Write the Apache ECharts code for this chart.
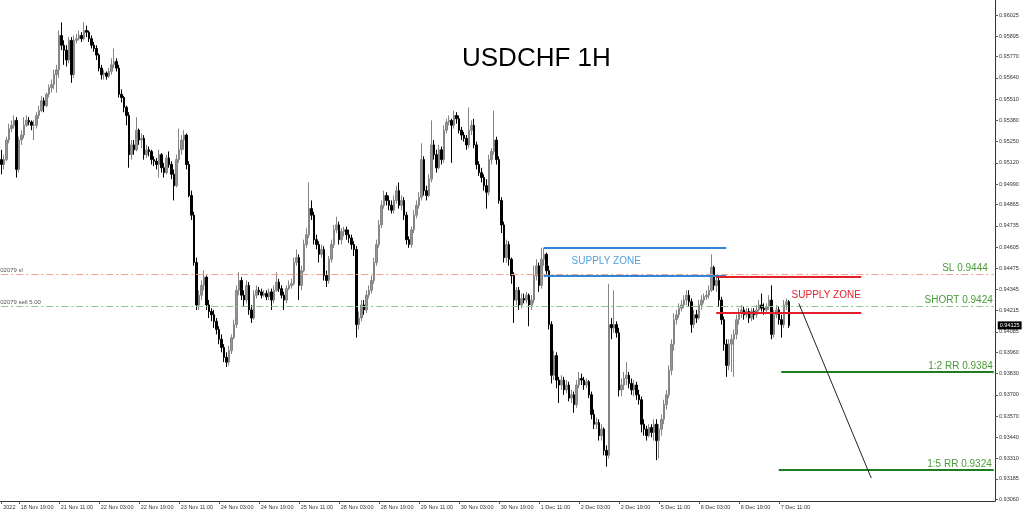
<!DOCTYPE html>
<html><head><meta charset="utf-8">
<script src="https://cdn.jsdelivr.net/npm/echarts@6/dist/echarts.min.js"></script>
<style>html,body{margin:0;padding:0;background:#fff}#c{width:1024px;height:514px}</style>
</head><body><div id="c"></div>
<script>
// ---- data (USDCHF H1 candles) ----
const firstOpen = 0.9514;
const closes = [
0.9511,0.9514,0.9526,0.9533,0.9535,0.9538,0.9508,0.9526,0.9529,0.9535,
0.9538,0.9537,0.9535,0.9535,0.9541,0.9544,0.9550,0.9547,0.9554,0.9558,
0.9560,0.9566,0.9569,0.9590,0.9584,0.9581,0.9575,0.9587,0.9566,0.9587,
0.9588,0.9590,0.9588,0.9593,0.9592,0.9588,0.9584,0.9582,0.9578,0.9570,
0.9566,0.9567,0.9565,0.9568,0.9572,0.9574,0.9570,0.9554,0.9552,0.9546,
0.9541,0.9517,0.9523,0.9520,0.9532,0.9526,0.9527,0.9517,0.9520,0.9519,
0.9514,0.9513,0.9511,0.9517,0.9509,0.9506,0.9515,0.9511,0.9505,0.9498,
0.9514,0.9520,0.9526,0.9529,0.9511,0.9492,0.9480,0.9451,0.9425,0.9431,
0.9437,0.9442,0.9425,0.9421,0.9419,0.9415,0.9410,0.9404,0.9399,0.9393,
0.9390,0.9397,0.9405,0.9413,0.9434,0.9440,0.9431,0.9428,0.9437,0.9422,
0.9417,0.9431,0.9434,0.9433,0.9431,0.9432,0.9430,0.9433,0.9428,0.9434,
0.9439,0.9435,0.9431,0.9428,0.9435,0.9437,0.9438,0.9451,0.9454,0.9437,
0.9446,0.9462,0.9468,0.9484,0.9480,0.9465,0.9462,0.9456,0.9459,0.9443,
0.9440,0.9453,0.9462,0.9471,0.9474,0.9465,0.9470,0.9471,0.9468,0.9466,
0.9462,0.9459,0.9413,0.9417,0.9425,0.9422,0.9431,0.9434,0.9440,0.9451,
0.9462,0.9474,0.9486,0.9492,0.9489,0.9486,0.9483,0.9489,0.9495,0.9486,
0.9489,0.9480,0.9465,0.9462,0.9471,0.9480,0.9486,0.9491,0.9514,0.9495,
0.9492,0.9502,0.9523,0.9517,0.9509,0.9520,0.9514,0.9532,0.9537,0.9538,
0.9535,0.9541,0.9539,0.9532,0.9529,0.9527,0.9523,0.9532,0.9535,0.9523,
0.9511,0.9506,0.9503,0.9498,0.9494,0.9514,0.9519,0.9526,0.9514,0.9489,
0.9474,0.9454,0.9462,0.9453,0.9443,0.9428,0.9434,0.9425,0.9429,0.9428,
0.9431,0.9425,0.9428,0.9443,0.9449,0.9437,0.9453,0.9456,0.9446,0.9413,
0.9382,0.9394,0.9379,0.9376,0.9379,0.9373,0.9376,0.9368,0.9370,0.9364,
0.9376,0.9380,0.9379,0.9376,0.9378,0.9370,0.9358,0.9352,0.9353,0.9345,
0.9349,0.9336,0.9333,0.9413,0.9411,0.9413,0.9408,0.9373,0.9376,0.9380,
0.9382,0.9377,0.9373,0.9376,0.9370,0.9367,0.9352,0.9349,0.9345,0.9350,
0.9347,0.9352,0.9342,0.9349,0.9355,0.9364,0.9370,0.9385,0.9401,0.9416,
0.9419,0.9423,0.9425,0.9428,0.9431,0.9427,0.9413,0.9419,0.9417,0.9425,
0.9428,0.9430,0.9431,0.9434,0.9448,0.9437,0.9440,0.9428,0.9416,0.9401,
0.9388,0.9401,0.9404,0.9407,0.9416,0.9420,0.9422,0.9419,0.9421,0.9417,
0.9421,0.9419,0.9422,0.9425,0.9423,0.9422,0.9424,0.9428,0.9407,0.9419,
0.9422,0.9416,0.9413,0.9425,0.9427,0.94125
];
const highs = [
0.9520,0.9517,0.9528,0.9536,0.9538,0.9541,0.9540,0.9528,0.9532,0.9540,
0.9541,0.9540,0.9538,0.9538,0.9543,0.9547,0.9553,0.9552,0.9555,0.9560,
0.9563,0.9569,0.9572,0.9593,0.9598,0.9587,0.9584,0.9589,0.9589,0.9590,
0.9591,0.9593,0.9592,0.9598,0.9596,0.9593,0.9590,0.9586,0.9584,0.9579,
0.9572,0.9569,0.9568,0.9570,0.9576,0.9582,0.9576,0.9572,0.9557,0.9553,
0.9547,0.9543,0.9526,0.9526,0.9540,0.9533,0.9530,0.9529,0.9523,0.9522,
0.9520,0.9516,0.9515,0.9520,0.9518,0.9512,0.9517,0.9519,0.9513,0.9508,
0.9517,0.9533,0.9529,0.9532,0.9530,0.9513,0.9495,0.9482,0.9454,0.9434,
0.9440,0.9446,0.9443,0.9428,0.9423,0.9422,0.9417,0.9412,0.9407,0.9401,
0.9396,0.9400,0.9407,0.9416,0.9437,0.9445,0.9442,0.9434,0.9440,0.9439,
0.9425,0.9434,0.9437,0.9436,0.9435,0.9434,0.9434,0.9435,0.9435,0.9437,
0.9445,0.9441,0.9437,0.9433,0.9437,0.9440,0.9441,0.9454,0.9459,0.9456,
0.9449,0.9465,0.9472,0.9500,0.9489,0.9482,0.9468,0.9464,0.9462,0.9461,
0.9446,0.9455,0.9465,0.9474,0.9479,0.9476,0.9472,0.9473,0.9473,0.9471,
0.9468,0.9464,0.9461,0.9421,0.9428,0.9428,0.9434,0.9437,0.9443,0.9454,
0.9465,0.9477,0.9489,0.9495,0.9494,0.9492,0.9489,0.9492,0.9498,0.9500,
0.9492,0.9491,0.9482,0.9467,0.9473,0.9483,0.9489,0.9494,0.9524,0.9516,
0.9498,0.9505,0.9538,0.9526,0.9520,0.9523,0.9522,0.9535,0.9539,0.9541,
0.9539,0.9544,0.9543,0.9541,0.9534,0.9531,0.9529,0.9546,0.9538,0.9539,
0.9525,0.9513,0.9509,0.9505,0.9502,0.9517,0.9521,0.9544,0.9528,0.9516,
0.9491,0.9476,0.9465,0.9464,0.9454,0.9445,0.9436,0.9436,0.9432,0.9432,
0.9433,0.9432,0.9431,0.9449,0.9453,0.9451,0.9460,0.9460,0.9457,0.9449,
0.9415,0.9397,0.9396,0.9381,0.9382,0.9381,0.9379,0.9378,0.9373,0.9372,
0.9379,0.9384,0.9383,0.9381,0.9380,0.9379,0.9372,0.9361,0.9356,0.9355,
0.9352,0.9350,0.9339,0.9438,0.9417,0.9434,0.9415,0.9411,0.9380,0.9384,
0.9390,0.9384,0.9380,0.9379,0.9378,0.9373,0.9369,0.9355,0.9351,0.9352,
0.9352,0.9355,0.9355,0.9352,0.9358,0.9367,0.9373,0.9388,0.9404,0.9420,
0.9422,0.9426,0.9428,0.9431,0.9434,0.9434,0.9429,0.9422,0.9422,0.9428,
0.9431,0.9432,0.9434,0.9437,0.9456,0.9449,0.9443,0.9442,0.9430,0.9418,
0.9404,0.9404,0.9407,0.9410,0.9419,0.9423,0.9425,0.9424,0.9423,0.9423,
0.9423,0.9423,0.9425,0.9428,0.9432,0.9426,0.9426,0.9431,0.9437,0.9422,
0.9425,0.9424,0.9419,0.9428,0.9429,0.9428
];
const lows = [
0.9505,0.9508,0.9513,0.9524,0.9531,0.9533,0.9503,0.9506,0.9523,0.9527,
0.9534,0.9535,0.9532,0.9526,0.9533,0.9539,0.9543,0.9543,0.9546,0.9552,
0.9555,0.9557,0.9555,0.9564,0.9581,0.9572,0.9571,0.9573,0.9561,0.9564,
0.9585,0.9587,0.9586,0.9587,0.9589,0.9586,0.9582,0.9580,0.9575,0.9568,
0.9563,0.9563,0.9563,0.9564,0.9566,0.9570,0.9568,0.9552,0.9549,0.9543,
0.9535,0.9509,0.9514,0.9517,0.9519,0.9523,0.9521,0.9514,0.9515,0.9516,
0.9511,0.9510,0.9508,0.9503,0.9506,0.9503,0.9505,0.9509,0.9502,0.9489,
0.9497,0.9512,0.9517,0.9520,0.9508,0.9491,0.9477,0.9449,0.9422,0.9422,
0.9428,0.9434,0.9422,0.9417,0.9415,0.9411,0.9407,0.9401,0.9396,0.9390,
0.9387,0.9388,0.9395,0.9404,0.9411,0.9431,0.9428,0.9424,0.9426,0.9419,
0.9414,0.9416,0.9429,0.9431,0.9429,0.9430,0.9428,0.9428,0.9422,0.9426,
0.9433,0.9433,0.9429,0.9422,0.9426,0.9434,0.9435,0.9437,0.9449,0.9428,
0.9434,0.9445,0.9460,0.9466,0.9477,0.9462,0.9459,0.9451,0.9454,0.9440,
0.9436,0.9438,0.9451,0.9460,0.9469,0.9462,0.9462,0.9467,0.9465,0.9463,
0.9459,0.9455,0.9405,0.9410,0.9415,0.9419,0.9420,0.9429,0.9432,0.9438,
0.9449,0.9460,0.9472,0.9484,0.9486,0.9483,0.9481,0.9481,0.9487,0.9484,
0.9483,0.9477,0.9462,0.9460,0.9460,0.9469,0.9478,0.9484,0.9489,0.9492,
0.9489,0.9491,0.9500,0.9514,0.9506,0.9508,0.9511,0.9512,0.9530,0.9535,
0.9512,0.9533,0.9536,0.9530,0.9526,0.9525,0.9520,0.9521,0.9529,0.9521,
0.9508,0.9504,0.9500,0.9495,0.9484,0.9492,0.9511,0.9517,0.9511,0.9487,
0.9469,0.9451,0.9451,0.9449,0.9438,0.9414,0.9425,0.9422,0.9423,0.9426,
0.9426,0.9412,0.9422,0.9426,0.9440,0.9433,0.9435,0.9449,0.9443,0.9410,
0.9377,0.9379,0.9374,0.9365,0.9373,0.9370,0.9371,0.9366,0.9365,0.9359,
0.9362,0.9374,0.9376,0.9373,0.9374,0.9368,0.9355,0.9349,0.9349,0.9342,
0.9342,0.9333,0.9326,0.9331,0.9404,0.9408,0.9405,0.9369,0.9369,0.9373,
0.9376,0.9374,0.9370,0.9369,0.9367,0.9364,0.9347,0.9345,0.9342,0.9344,
0.9344,0.9342,0.9330,0.9331,0.9345,0.9352,0.9361,0.9368,0.9382,0.9397,
0.9413,0.9417,0.9421,0.9423,0.9425,0.9424,0.9408,0.9411,0.9414,0.9416,
0.9422,0.9426,0.9428,0.9429,0.9433,0.9434,0.9433,0.9424,0.9413,0.9397,
0.9381,0.9385,0.9384,0.9381,0.9404,0.9413,0.9417,0.9416,0.9417,0.9414,
0.9415,0.9416,0.9417,0.9421,0.9421,0.9419,0.9420,0.9422,0.9404,0.9405,
0.9417,0.9413,0.9405,0.9411,0.9422,0.9411
];
// price-axis tick labels and time-axis tick labels
const priceTicks = [0.96025,0.95895,0.95770,0.95640,0.95510,0.95380,0.95250,0.95120,0.94990,0.94865,0.94735,0.94605,0.94475,0.94345,0.94215,0.94085,0.93960,0.93830,0.93700,0.93570,0.93440,0.93310,0.93185,0.93060];
const yearLabel = '2022';
const timeLabels = ['18 Nov 19:00','21 Nov 11:00','22 Nov 03:00','22 Nov 19:00','23 Nov 11:00','24 Nov 03:00','24 Nov 19:00','25 Nov 11:00','28 Nov 03:00','28 Nov 19:00','29 Nov 11:00','30 Nov 03:00','30 Nov 19:00','1 Dec 11:00','2 Dec 03:00','2 Dec 19:00','5 Dec 11:00','6 Dec 03:00','6 Dec 19:00','7 Dec 11:00'];
const firstLabelBar = 7, barsPerLabel = 16, totalSlots = 398;
// trade levels
const slLevel = 0.9444, shortLevel = 0.9424, rr2Level = 0.9384, rr5Level = 0.9324, lastPrice = 0.94125;
const blueZone = [0.9460, 0.9443], blueZoneBars = [217, 290];
const redZone = [0.9442, 0.9420], redZoneBars = [286, 344];
const rr2StartBar = 312, rr5StartBar = 311;
const arrowFrom = [319, 0.9426], arrowTo = [348, 0.9319];
const blueLabelAt = [242, 0.9452], redLabelAt = [330, 0.9431];

// ---- build ----
const cats = [];
for (let i = 0; i < totalSlots; i++) cats.push(String(i));
const lastSlot = totalSlots - 1;
const candles = closes.map((c, i) => {
  const o = i === 0 ? firstOpen : closes[i - 1];
  return [o, c, Math.min(lows[i], o, c), Math.max(highs[i], o, c)];
});
function labelIdx(index) {
  if (index === 0) return -1;
  const k = (index - firstLabelBar) / barsPerLabel;
  return (Number.isInteger(k) && k >= 0 && k < timeLabels.length) ? k : null;
}
const showLabel = (index) => labelIdx(index) !== null;

const FONT = 'Liberation Sans, Arial, sans-serif';
const dashDot = [7, 3, 2, 3];
const green = '#4a9a36';
const hidden = {color: 'rgba(255,255,255,0)', width: 0.01, type: 'solid'};
function hLine(y, x0, x1, lineStyle, label) {
  return [{coord: [x0, y], lineStyle: lineStyle, label: label || {show: false}}, {coord: [x1, y]}];
}
const chart = echarts.init(document.getElementById('c'), null, {renderer: 'canvas'});
chart.setOption({
  animation: false,
  backgroundColor: '#fff',
  title: {text: 'USDCHF 1H', left: 457, top: 41,
    textStyle: {fontSize: 26, fontWeight: 'normal', color: '#000', fontFamily: FONT}},
  grid: {left: 0, right: 29, top: 0, bottom: 13},
  xAxis: {
    type: 'category', data: cats, boundaryGap: true,
    axisLine: {show: true, lineStyle: {color: '#333', width: 1}},
    axisTick: {show: true, alignWithLabel: true, interval: showLabel, length: 3, lineStyle: {color: '#555'}},
    axisLabel: {interval: showLabel, align: 'left', margin: 3, padding: [0, 0, 0, 2],
      fontSize: 5.5, color: '#333', fontFamily: FONT,
      formatter: (v, index) => { const k = labelIdx(index); return k === -1 ? yearLabel : (k === null ? '' : timeLabels[k]); }},
    splitLine: {show: false}
  },
  yAxis: {
    type: 'value', position: 'right', min: 0.9305, max: 0.96117, scale: true,
    axisLine: {show: true, lineStyle: {color: '#333', width: 1}},
    axisTick: {show: true, customValues: priceTicks, length: 3, lineStyle: {color: '#555'}},
    axisLabel: {customValues: priceTicks, formatter: v => v.toFixed(5), fontSize: 5.5, margin: 4,
      color: '#333', fontFamily: FONT},
    splitLine: {show: false}
  },
  series: [{
    type: 'candlestick', data: candles, barWidth: 2,
    itemStyle: {color: '#959595', color0: '#000', borderColor: '#858585', borderColor0: '#000', borderWidth: 1},
    markLine: {
      silent: true, symbol: ['none', 'none'], animation: false,
      data: [
        hLine(slLevel, 0, lastSlot, {color: '#f0a38c', type: dashDot, width: 1},
          {show: true, position: 'insideEndTop', formatter: 'SL 0.9444', color: green, fontSize: 10, distance: [6, 1], fontFamily: FONT}),
        hLine(slLevel, 0, lastSlot, hidden,
          {show: true, position: 'insideStartTop', formatter: '02079 sl', color: '#555', fontSize: 6, distance: [-1, 1], fontFamily: FONT}),
        hLine(shortLevel, 0, lastSlot, {color: '#8cc48c', type: dashDot, width: 1},
          {show: true, position: 'insideEndTop', formatter: 'SHORT 0.9424', color: green, fontSize: 10, distance: [1, 1], fontFamily: FONT}),
        hLine(shortLevel, 0, lastSlot, hidden,
          {show: true, position: 'insideStartTop', formatter: '02079 sell 5.00', color: '#555', fontSize: 6, distance: [-1, 1], fontFamily: FONT}),
        hLine(blueZone[0], blueZoneBars[0], blueZoneBars[1], {color: '#2f86d8', width: 2, type: 'solid'}),
        hLine(blueZone[1], blueZoneBars[0], blueZoneBars[1], {color: '#2f86d8', width: 2, type: 'solid'}),
        hLine(redZone[0], redZoneBars[0], redZoneBars[1], {color: '#e3202a', width: 2, type: 'solid'}),
        hLine(redZone[1], redZoneBars[0], redZoneBars[1], {color: '#e3202a', width: 2, type: 'solid'}),
        hLine(rr2Level, rr2StartBar, lastSlot, {color: '#1e7d1e', width: 2, type: 'solid'},
          {show: true, position: 'insideEndTop', formatter: '1:2 RR 0.9384', color: green, fontSize: 10, distance: [1, 1], fontFamily: FONT}),
        hLine(rr5Level, rr5StartBar, lastSlot, {color: '#1e7d1e', width: 2, type: 'solid'},
          {show: true, position: 'insideEndTop', formatter: '1:5 RR 0.9324', color: green, fontSize: 10, distance: [2, 1], fontFamily: FONT}),
        [{coord: arrowFrom, lineStyle: {color: '#222', width: 1, type: 'solid'}, label: {show: false}}, {coord: arrowTo}],
        hLine(lastPrice, lastSlot - 1, lastSlot, hidden,
          {show: true, position: 'end', formatter: '0.94125', color: '#fff', backgroundColor: '#000', fontSize: 5.5, padding: [1, 2], distance: 4, fontFamily: FONT})
      ]
    },
    markPoint: {
      silent: true, symbol: 'circle', symbolSize: 1, itemStyle: {color: 'rgba(0,0,0,0)'},
      data: [
        {coord: blueLabelAt, label: {show: true, position: 'inside', formatter: 'SUPPLY ZONE', color: '#4ea2e0', fontSize: 10, fontFamily: FONT}},
        {coord: redLabelAt, label: {show: true, position: 'inside', formatter: 'SUPPLY ZONE', color: '#e3202a', fontSize: 10, fontFamily: FONT}}
      ]
    }
  }]
});
</script></body></html>
